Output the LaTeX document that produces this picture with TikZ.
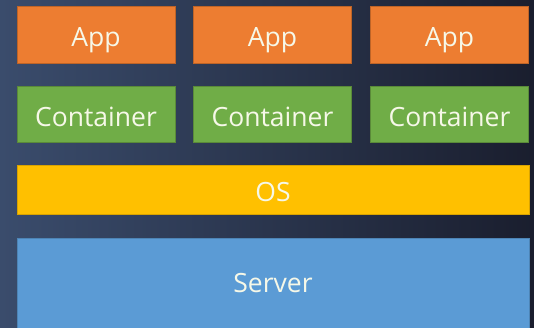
\documentclass[tikz,border=0pt]{standalone}
\usepackage{fontspec}
\setmainfont{Open Sans}
\usepackage{tikz}
\usetikzlibrary{positioning}
\definecolor{BgLeft}{RGB}{58,76,108}
\definecolor{BgRight}{RGB}{26,30,46}
\definecolor{AppOrange}{RGB}{237,125,49}
\definecolor{ContGreen}{RGB}{112,173,71}
\definecolor{OSYellow}{RGB}{255,192,0}
\definecolor{ServerBlue}{RGB}{91,155,213}
\definecolor{LabelWhite}{RGB}{246,248,232}

\tikzset{
    layer/.style={draw, line width=0.8pt, inner sep=0, text=LabelWhite,
        text height=24pt, text depth=0pt, font=\fontsize{26.5}{30}\selectfont},
    appbox/.style={layer, fill=AppOrange, draw=AppOrange!80!black, minimum width=158, minimum height=57},
    contbox/.style={layer, fill=ContGreen, draw=ContGreen!80!black, minimum width=158, minimum height=56},
}

\begin{document}
\begin{tikzpicture}[x=1pt, y=-1pt]
\useasboundingbox (0,0) rectangle (534,327);
\fill[left color=BgLeft, right color=BgRight] (0,0) rectangle (534,327);
\foreach \x/\c in {1/96, 2/272.5, 3/449.5}
{
    \node[appbox] (app\x) at (\c, 34.5) {App};
    \node[contbox] (cont\x) at (\c, 114) {Container};
}
\node[layer, fill=OSYellow, draw=OSYellow!85!black, minimum width=512, minimum height=49] (os) at (273, 189.5) {OS};
\node[layer, fill=ServerBlue, draw=ServerBlue!85!black, minimum width=512, minimum height=96, text height=13pt] (server) at (273, 286) {Server};
\end{tikzpicture}
\end{document}
